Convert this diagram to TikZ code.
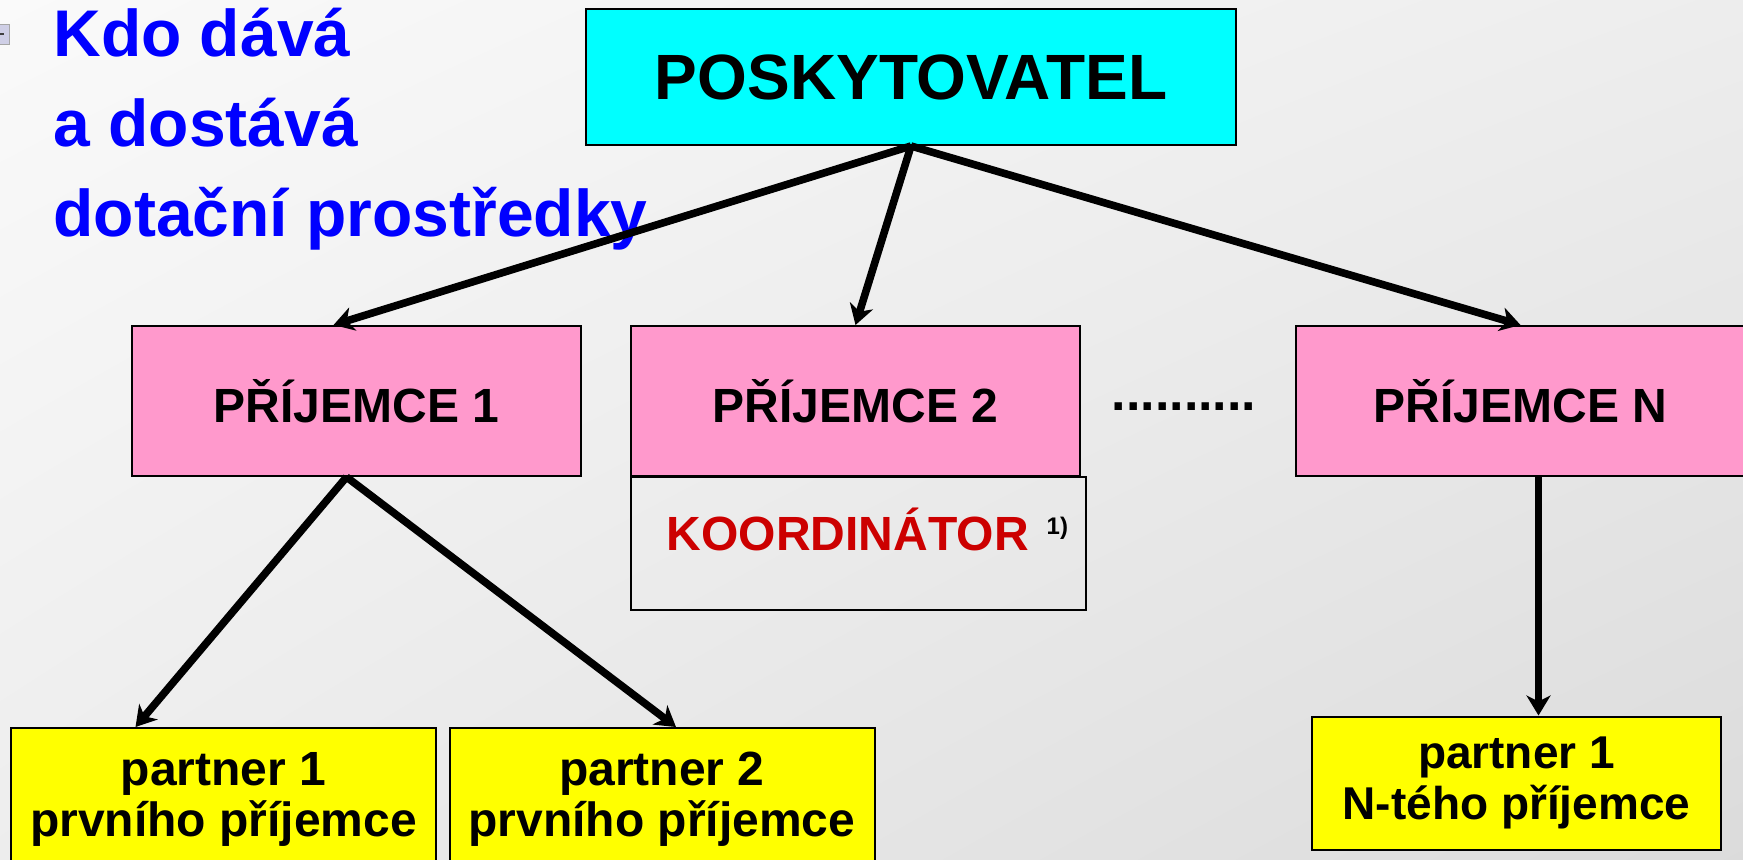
\documentclass[tikz,border=0pt]{standalone}
\usepackage{fontspec}
\setmainfont{Liberation Sans}
\usepackage{xcolor}
\usepackage{tikz}
\usetikzlibrary{arrows.meta,shadings}
\usetikzlibrary{positioning,calc}
\definecolor{tyrkys}{HTML}{00FFFF}
\definecolor{ruzova}{HTML}{FF99CC}
\definecolor{zluta}{HTML}{FFFF00}
\definecolor{cervena}{HTML}{CC0000}
\definecolor{modra}{HTML}{0000FF}
\definecolor{odrazka}{HTML}{CFCFE6}
\tikzset{%
  sipka/.style={-{Stealth[length=10pt,width=12pt,inset=3pt]},line width=3.8pt},
  ramecek/.style={draw,line width=1pt,inner sep=0pt,align=center},
  poskytovatel/.style={%
    ramecek,fill=tyrkys,
    minimum width=325pt,minimum height=68pt,
    font=\fontsize{32}{32}\selectfont\bfseries
  },
  prijemce/.style={%
    ramecek,fill=ruzova,
    minimum width=224.5pt,minimum height=75pt,
    font=\fontsize{24}{24}\selectfont\bfseries
  },
  partner/.style={%
    ramecek,fill=zluta,
    minimum width=212.5pt,minimum height=71pt,
    font=\fontsize{24}{25.5}\selectfont\bfseries
  }
}

\begin{document}
\begin{tikzpicture}[x=0.5pt,y=-0.5pt]
\useasboundingbox (0,0) rectangle (1743,859);
\shade[upper left=white!98!black,upper right=white!93!black,
  lower left=white!93!black,lower right=white!86!black] (0,0) rectangle (1743,859);

\filldraw[fill=odrazka,draw=gray!70] (-6,24) rectangle (9,44);
\draw[line width=1pt,darkgray] (-6,34) -- (4,34);

\node[anchor=north west,inner sep=0pt,align=left,text=modra,
  font=\fontsize{33}{45}\selectfont\bfseries] (nadpis) at (53,8)
  {Kdo dává\\a dostává\\dotační prostředky};

\node[poskytovatel] (posk) at (911,77) {POSKYTOVATEL};
\node[prijemce] (prij1) at (356.5,401) {PŘÍJEMCE 1};
\node[prijemce] (prij2) at (855.5,401) {PŘÍJEMCE 2};
\node[prijemce] (prijN) at (1520.5,401) {PŘÍJEMCE N};
\node[font=\fontsize{26}{26}\selectfont\bfseries] (tecky) at (1184,407) {..........};

\node[ramecek,anchor=north,minimum width=227.5pt,text height=36.5pt,text depth=30pt,
  font=\fontsize{24}{24}\selectfont\bfseries] (koord) at (858.5,476)
  {\hspace*{9pt}{\color{cervena}KOORDINÁTOR}\hspace{9pt}\raisebox{8pt}{\fontsize{12}{12}\selectfont 1)}};

\node[partner] (part11) at (223.5,799) {partner 1\\prvního příjemce};
\node[partner] (part21) at (662,799) {partner 2\\prvního příjemce};
\node[partner,minimum width=204.5pt,minimum height=66.5pt,
  font=\fontsize{23}{25.5}\selectfont\bfseries] (partN) at (1516.5,783)
  {partner 1\\N-tého příjemce};

\draw[sipka] (posk.south) -- ($(prij1.north)+(-23,0)$);
\draw[sipka] (posk.south) -- (prij2.north);
\draw[sipka] (posk.south) -- (prijN.north);
\draw[sipka] ($(prij1.south)+(-10,0)$) -- ($(part11.north)+(-88,0)$);
\draw[sipka] ($(prij1.south)+(-10,0)$) -- ($(part21.north)+(14,0)$);
\draw[sipka] ($(prijN.south)+(18,0)$) -- ($(partN.north)+(22,0)$);
\end{tikzpicture}
\end{document}
